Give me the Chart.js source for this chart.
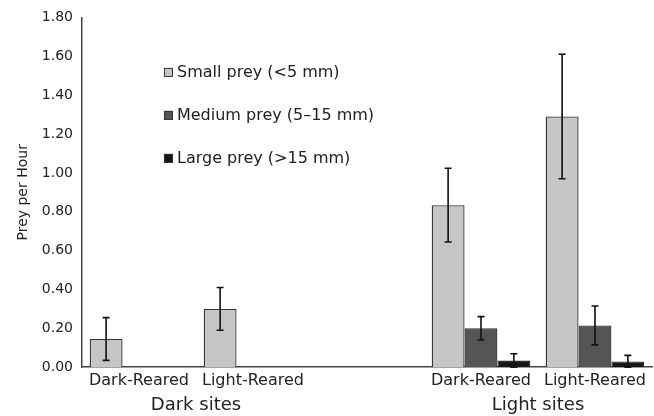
<!DOCTYPE html>
<html>
<head>
<meta charset="utf-8">
<script src="https://cdn.jsdelivr.net/npm/chart.js@4"></script>
<style>
  html, body { margin: 0; padding: 0; background: #fff; }
  #wrap { width: 654px; height: 416px; }
</style>
</head>
<body>
<div id="wrap"><canvas id="myChart"></canvas></div>
<script>
var categories = ["Dark-Reared", "Light-Reared", "", "Dark-Reared", "Light-Reared"];
var sites = ["Dark sites", "Dark sites", "", "Light sites", "Light sites"];
var seriesNames = ["Small prey (<5 mm)", "Medium prey (5\u201315 mm)", "Large prey (>15 mm)"];
var smallPrey = [0.145, 0.30, null, 0.834, 1.29];
var smallErr = [0.11, 0.11, null, 0.19, 0.32];
var mediumPrey = [null, null, null, 0.20, 0.215];
var mediumErr = [null, null, null, 0.06, 0.10];
var largePrey = [null, null, null, 0.034, 0.029];
var largeErr = [null, null, null, 0.035, 0.032];
var yTicks = [0, 0.2, 0.4, 0.6, 0.8, 1.0, 1.2, 1.4, 1.6, 1.8];

var barColors = ["#c6c6c6", "#555555", "#161616"];
var fontFamily = "'DejaVu Sans', sans-serif";

// second row of labels: a half-step category axis, one slot per category
// edge and centre, so a group name sits between its two categories
var siteRow = [];
for (var k = 0; k <= categories.length * 2; k++) siteRow.push("");
var seen = {};
sites.forEach(function (s, i) {
    if (!s) return;
    if (!seen[s]) seen[s] = [];
    seen[s].push(i);
});
Object.keys(seen).forEach(function (s) {
    var idx = seen[s];
    var mid = (idx[0] + idx[idx.length - 1]) / 2;
    siteRow[Math.round(mid * 2 + 1)] = s;
});

var errorBars = {
    id: "errorBars",
    afterDatasetsDraw: function (chart) {
        var ctx = chart.ctx;
        var y = chart.scales.y;
        ctx.save();
        ctx.strokeStyle = "#111";
        ctx.lineWidth = 1.6;
        chart.data.datasets.forEach(function (ds, di) {
            var meta = chart.getDatasetMeta(di);
            meta.data.forEach(function (bar, i) {
                var v = ds.data[i];
                var e = ds.errors[i];
                if (v == null || e == null) return;
                var top = y.getPixelForValue(v + e);
                var bot = y.getPixelForValue(Math.max(v - e, 0));
                ctx.beginPath();
                ctx.moveTo(bar.x, top);
                ctx.lineTo(bar.x, bot);
                ctx.moveTo(bar.x - 3.5, top);
                ctx.lineTo(bar.x + 3.5, top);
                ctx.moveTo(bar.x - 3.5, bot);
                ctx.lineTo(bar.x + 3.5, bot);
                ctx.stroke();
            });
        });
        ctx.restore();
    }
};

var boxLegend = {
    id: "boxLegend",
    afterDraw: function (chart) {
        var ctx = chart.ctx;
        var x0 = chart.chartArea.left + 82;
        var y0 = chart.chartArea.top + 55;
        ctx.save();
        ctx.font = "16px " + fontFamily;
        ctx.textBaseline = "middle";
        chart.data.datasets.forEach(function (ds, i) {
            var yy = y0 + i * 43;
            ctx.fillStyle = ds.backgroundColor;
            ctx.fillRect(x0, yy - 4.5, 9, 9);
            ctx.strokeStyle = "#333";
            ctx.lineWidth = 1;
            ctx.strokeRect(x0 + 0.5, yy - 4, 8, 8);
            ctx.fillStyle = "#222";
            ctx.fillText(ds.label, x0 + 13, yy);
        });
        ctx.restore();
    }
};

function makeSet(i, values, errs) {
    return {
        label: seriesNames[i],
        data: values,
        errors: errs,
        backgroundColor: barColors[i],
        borderColor: "#333",
        borderWidth: 1.3,
        borderSkipped: "bottom",
        categoryPercentage: 0.865,
        barPercentage: 1.0
    };
}

new Chart("myChart", {
    type: "bar",
    data: {
        labels: categories,
        datasets: [
            makeSet(0, smallPrey, smallErr),
            makeSet(1, mediumPrey, mediumErr),
            makeSet(2, largePrey, largeErr)
        ]
    },
    options: {
        responsive: true,
        maintainAspectRatio: false,
        animation: false,
        layout: { padding: { top: 8, right: 2, left: 15, bottom: 0 } },
        plugins: {
            legend: { display: false },
            tooltip: { enabled: false }
        },
        scales: {
            x: {
                type: "category",
                offset: true,
                grid: { display: false, drawTicks: false },
                border: { color: "#444", width: 1.5 },
                ticks: {
                    autoSkip: false,
                    maxRotation: 0,
                    padding: 4,
                    color: "#222",
                    font: { family: fontFamily, size: 16 }
                }
            },
            x2: {
                type: "category",
                position: "bottom",
                labels: siteRow,
                offset: false,
                grid: { display: false, drawTicks: false },
                border: { display: false },
                ticks: {
                    autoSkip: false,
                    maxRotation: 0,
                    padding: 0,
                    color: "#222",
                    font: { family: fontFamily, size: 18 }
                }
            },
            y: {
                min: 0,
                max: 1.8,
                afterBuildTicks: function (axis) {
                    axis.ticks = yTicks.map(function (v) { return { value: v }; });
                },
                grid: { display: false, drawTicks: false },
                border: { color: "#444", width: 1.5 },
                title: {
                    display: true,
                    text: "Prey per Hour",
                    color: "#222",
                    padding: { top: 0, bottom: 1 },
                    font: { family: fontFamily, size: 14 }
                },
                ticks: {
                    padding: 9,
                    color: "#222",
                    font: { family: fontFamily, size: 14 },
                    callback: function (v) { return v.toFixed(2); }
                }
            }
        }
    },
    plugins: [errorBars, boxLegend]
});
</script>
</body>
</html>
